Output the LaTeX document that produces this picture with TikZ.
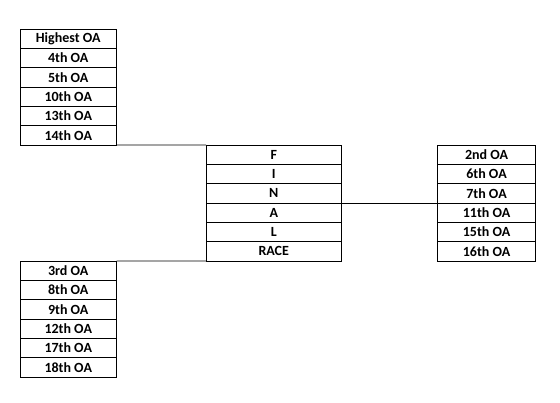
\documentclass[tikz,border=0pt]{standalone}
\usepackage{fontspec}
\setmainfont{Carlito}
\begin{document}
\begin{tikzpicture}[x=1pt,y=-1pt,
  cell/.style={draw=black, line width=0.8pt, rectangle, anchor=north west, inner sep=0pt,
    outer sep=0pt, minimum height=19.3333pt, font=\fontsize{14}{16}\selectfont\bfseries},
  lcell/.style={cell, minimum width=96.5pt},
  ccell/.style={cell, minimum width=135.5pt},
  rcell/.style={cell, minimum width=98.5pt},
  conn/.style={draw=black, line width=0.8pt}]
\useasboundingbox (0,0) rectangle (560,403);
% top-left table
\foreach \t [count=\i from 0] in {Highest OA,4th OA,5th OA,10th OA,13th OA,14th OA}{
  \node[lcell] (tl\i) at (20,{29+19.3333*\i}) {\t};
}
% center table
\foreach \t [count=\i from 0] in {F,I,N,A,L,RACE}{
  \node[ccell] (c\i) at (206,{145+19.3333*\i}) {\t};
}
% right table
\foreach \t [count=\i from 0] in {2nd OA,6th OA,7th OA,11th OA,15th OA,16th OA}{
  \node[rcell] (r\i) at (437.3,{145+19.3333*\i}) {\t};
}
% bottom-left table
\foreach \t [count=\i from 0] in {3rd OA,8th OA,9th OA,12th OA,17th OA,18th OA}{
  \node[lcell] (bl\i) at (20,{261+19.3333*\i}) {\t};
}
% connectors
\draw[conn] (tl5.south east) -- (c0.north west);
\draw[conn] (bl0.north east) -- (c5.south west);
\draw[conn] (c3.north east) -- (r3.north west);
\end{tikzpicture}
\end{document}
